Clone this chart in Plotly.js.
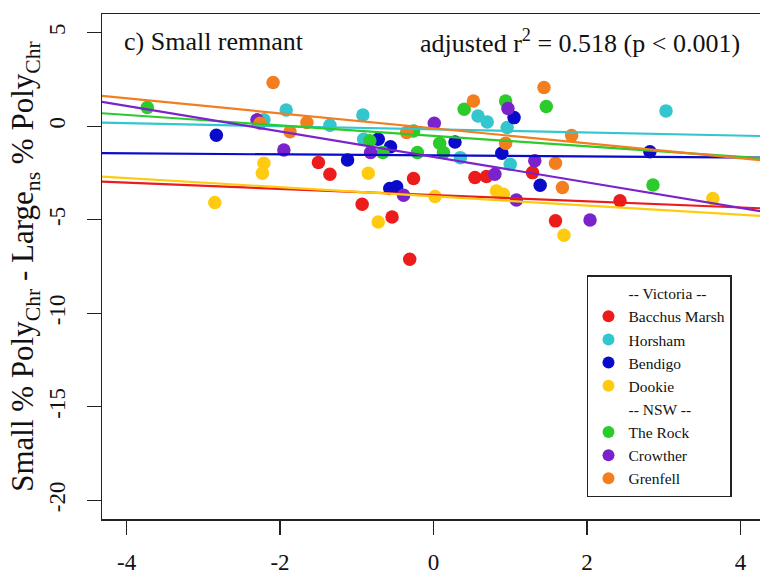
<!DOCTYPE html>
<html><head><meta charset="utf-8">
<script src="https://cdn.plot.ly/plotly-3.0.1.min.js"></script>
<style>html,body{margin:0;padding:0;overflow:hidden;background:#fff}#chart{width:800px;height:577px}</style>
</head><body><div id="chart"></div>
<script>
// ---- data ----
const siteNames = ['Bacchus Marsh','Horsham','Bendigo','Dookie','The Rock','Crowther','Grenfell'];
const regionHeaders = ['-- Victoria --','-- NSW --'];

const bacchusX = [-1.50,-1.35,-0.93,-0.54,-0.31,-0.26,0.54,0.69,1.29,1.59,2.43];
const bacchusY = [-1.94,-2.57,-4.17,-4.85,-7.11,-2.80,-2.74,-2.69,-2.48,-5.06,-3.99];
const horshamX = [-2.21,-1.92,-1.35,-0.92,-0.91,0.35,0.58,0.70,0.96,1.00,3.03];
const horshamY = [0.34,0.87,0.05,0.60,-0.70,-1.68,0.55,0.23,-0.07,-2.03,0.82];
const bendigoX = [-2.83,-1.12,-0.72,-0.56,-0.57,-0.48,0.28,0.89,1.05,1.39,2.82];
const bendigoY = [-0.48,-1.80,-0.70,-1.10,-3.33,-3.24,-0.84,-1.44,0.46,-3.16,-1.37];
const dookieX = [-2.85,-2.21,-2.23,-0.85,-0.72,0.02,0.82,0.91,1.70,3.64];
const dookieY = [-4.08,-1.98,-2.51,-2.51,-5.12,-3.76,-3.46,-3.64,-5.83,-3.87];
const rockX = [-3.73,-0.83,-0.66,-0.26,-0.21,0.08,0.13,0.40,0.94,1.47,2.86];
const rockY = [1.00,-0.78,-1.41,-0.25,-1.41,-0.91,-1.41,0.91,1.35,1.05,-3.14];
const crowtherX = [-2.30,-1.95,-0.82,-0.39,0.01,0.80,0.97,1.08,1.32,2.04];
const crowtherY = [0.34,-1.27,-1.41,-3.69,0.16,-2.57,0.95,-3.94,-1.85,-5.01];
const grenfellX = [-2.26,-2.09,-1.87,-1.65,-0.35,0.52,0.94,1.44,1.59,1.68,1.80];
const grenfellY = [0.16,2.34,-0.30,0.20,-0.34,1.35,-0.91,2.07,-1.98,-3.28,-0.50];

// per-site fitted regression lines (intercept, slope), same order as siteNames
const fitIntercept = [-3.68,-0.17,-1.56,-3.75,-0.515,-1.64,-0.11];
const fitSlope     = [-0.166,-0.083,-0.027,-0.245,-0.280,-0.68,-0.40];

const xTickVals = [-4,-2,0,2,4];
const xTickText = ['-4','-2','0','2','4'];
const yTickVals = [-20,-15,-10,-5,0,5];
const yTickText = ['-20','-15','-10','-5','0','5'];

// ---- styles ----
const siteColors = ['#EC1C1C','#33C6CE','#0A0ACA','#FFCB10','#2BCB2B','#7A22CC','#F27E20'];
const serif = 'Liberation Serif, Times New Roman, serif';
const xRange = [-4.32, 4.32];
const yRange = [-21, 6];

const siteX = [bacchusX,horshamX,bendigoX,dookieX,rockX,crowtherX,grenfellX];
const siteY = [bacchusY,horshamY,bendigoY,dookieY,rockY,crowtherY,grenfellY];

const traces = [];
function header(name){
  traces.push({x:[null],y:[null],type:'scatter',mode:'markers',name:name,
    marker:{color:'rgba(0,0,0,0)',size:10},hoverinfo:'skip'});
}
function site(i){
  traces.push({x:siteX[i],y:siteY[i],type:'scatter',mode:'markers',name:siteNames[i],
    marker:{color:siteColors[i],size:13.5,line:{width:0}}});
}
header(regionHeaders[0]);
[0,1,2,3].forEach(site);
header(regionHeaders[1]);
[4,5,6].forEach(site);
for(let i=0;i<siteNames.length;i++){
  traces.push({x:xRange,y:xRange.map(v=>fitIntercept[i]+fitSlope[i]*v),type:'scatter',mode:'lines',
    line:{color:siteColors[i],width:2.2},showlegend:false,hoverinfo:'skip'});
}

const axisCommon = {showline:true,mirror:true,linecolor:'#222',linewidth:1.5,ticks:'outside',ticklen:14,
  tickwidth:1.3,tickcolor:'#222',showgrid:false,zeroline:false,
  tickfont:{family:serif,size:23,color:'#111'}};

const layout = {
  width:800,height:577,
  margin:{l:102,r:35,t:14,b:58},
  paper_bgcolor:'#fff',plot_bgcolor:'#fff',
  showlegend:true,
  xaxis:Object.assign({},axisCommon,{range:xRange,tickmode:'array',tickvals:xTickVals,ticktext:xTickText,ticklabelstandoff:8}),
  yaxis:Object.assign({},axisCommon,{range:yRange,tickmode:'array',tickvals:yTickVals,ticktext:yTickText,tickangle:-90,ticklabelstandoff:12,
    title:{text:'Small % Poly<sub>Chr</sub> - Large<sub>ns</sub> % Poly<sub>Chr</sub>',font:{family:serif,size:31,color:'#111'},standoff:2}}),
  legend:{x:0.7315,y:0.483,xanchor:'left',yanchor:'top',bgcolor:'#fff',bordercolor:'#222',borderwidth:1.5,
    font:{family:serif,size:15.5,color:'#111'},itemsizing:'constant',traceorder:'normal'},
  annotations:[
    {xref:'paper',yref:'paper',x:0.03,y:0.946,xanchor:'left',yanchor:'middle',showarrow:false,
     text:'c) Small remnant',font:{family:serif,size:26,color:'#111'}},
    {xref:'paper',yref:'paper',x:0.966,y:0.946,xanchor:'right',yanchor:'middle',showarrow:false,
     text:'adjusted r<sup>2</sup> = 0.518 (p &lt; 0.001)',font:{family:serif,size:26,color:'#111'}}
  ]
};
Plotly.newPlot('chart',traces,layout,{displayModeBar:false,staticPlot:true});
</script></body></html>
